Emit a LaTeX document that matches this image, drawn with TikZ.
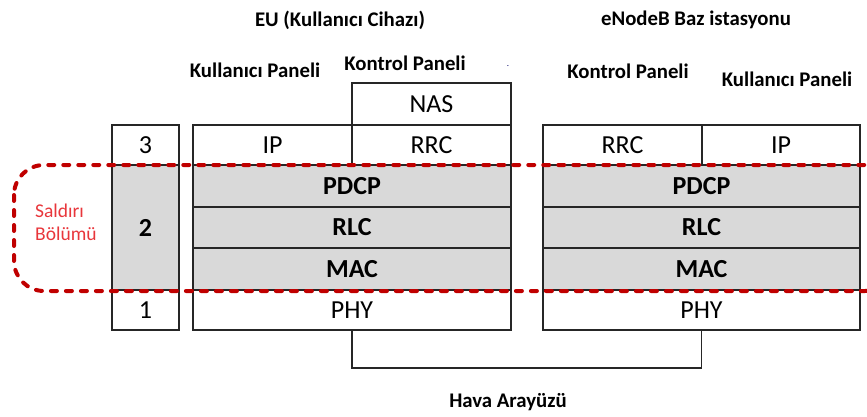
\documentclass[tikz,border=0pt]{standalone}
\usepackage{fontspec}
\setmainfont{Carlito}
\definecolor{zonered}{HTML}{C00000}
\definecolor{labelred}{HTML}{E8363B}
\begin{document}
\begin{tikzpicture}[x=1pt,y=-1pt,
  cell/.style={draw=black!85, line width=1.6pt, inner sep=0pt, outer sep=0pt,
               fill=white, font=\fontsize{26}{26}\selectfont},
  shaded/.style={cell, fill=black!15, font=\fontsize{26}{26}\selectfont\bfseries},
  heading/.style={font=\fontsize{20.8}{20.8}\selectfont\bfseries, inner sep=0pt},
  zone/.style={draw=zonered, line width=4pt, dash pattern=on 6pt off 9pt,
               line cap=round, rounded corners=30pt}
]
\useasboundingbox (0,0) rectangle (867,417);

% headings
\node[heading] (euT)  at (340,20) {EU (Kullanıcı Cihazı)};
\node[heading] (enbT) at (696,20) {eNodeB Baz istasyonu};
\node[heading] (ueU)  at (255,70) {Kullanıcı Paneli};
\node[heading] (ueC)  at (405,63) {Kontrol Paneli};
\node[heading] (enbC) at (628,71) {Kontrol Paneli};
\node[heading] (enbU) at (787,79) {Kullanıcı Paneli};
\node[heading, font=\fontsize{9}{9}\selectfont, text=blue!40!black] (dot) at (508,66) {.};
\node[heading] (air)  at (508,402) {Hava Arayüzü};

% layer numbers
\node[cell, minimum width=67pt, minimum height=40pt]  (n3) at (145.5,145)   {3};
\node[shaded, minimum width=67pt, minimum height=125pt] (n2) at (145.5,227.5) {2};
\node[cell, minimum width=67pt, minimum height=40pt]  (n1) at (145.5,310)   {1};

% user equipment stack
\node[cell, minimum width=159pt, minimum height=42pt] (ueNAS) at (431.5,104) {NAS};
\node[cell, minimum width=159pt, minimum height=40pt] (ueIP)  at (272.5,145) {IP};
\node[cell, minimum width=159pt, minimum height=40pt] (ueRRC) at (431.5,145) {RRC};
\node[shaded, minimum width=318pt, minimum height=42pt] (uePDCP) at (352,186)   {PDCP};
\node[shaded, minimum width=318pt, minimum height=41pt] (ueRLC)  at (352,227.5) {RLC};
\node[shaded, minimum width=318pt, minimum height=42pt] (ueMAC)  at (352,269)   {MAC};
\node[cell, minimum width=318pt, minimum height=40pt]   (uePHY)  at (352,310)   {PHY};

% base station stack
\node[cell, minimum width=159pt, minimum height=40pt] (enbRRC) at (622.5,145) {RRC};
\node[cell, minimum width=158pt, minimum height=40pt] (enbIP)  at (781,145)   {IP};
\node[shaded, minimum width=317pt, minimum height=42pt] (enbPDCP) at (701.5,186)   {PDCP};
\node[shaded, minimum width=317pt, minimum height=41pt] (enbRLC)  at (701.5,227.5) {RLC};
\node[shaded, minimum width=317pt, minimum height=42pt] (enbMAC)  at (701.5,269)   {MAC};
\node[cell, minimum width=317pt, minimum height=40pt]   (enbPHY)  at (701.5,310)   {PHY};

% air interface link
\draw[line width=1.6pt, draw=black!85] (uePHY.south) -- ++(0,38) -| (enbPHY.south);

% attack zone
\draw[zone] (14,165) rectangle (895,291);
\node[anchor=west, inner sep=0pt, align=left, text=labelred,
      font=\fontsize{19.5}{23}\selectfont] (attack) at (35,222) {Saldırı\\Bölümü};
\end{tikzpicture}
\end{document}
